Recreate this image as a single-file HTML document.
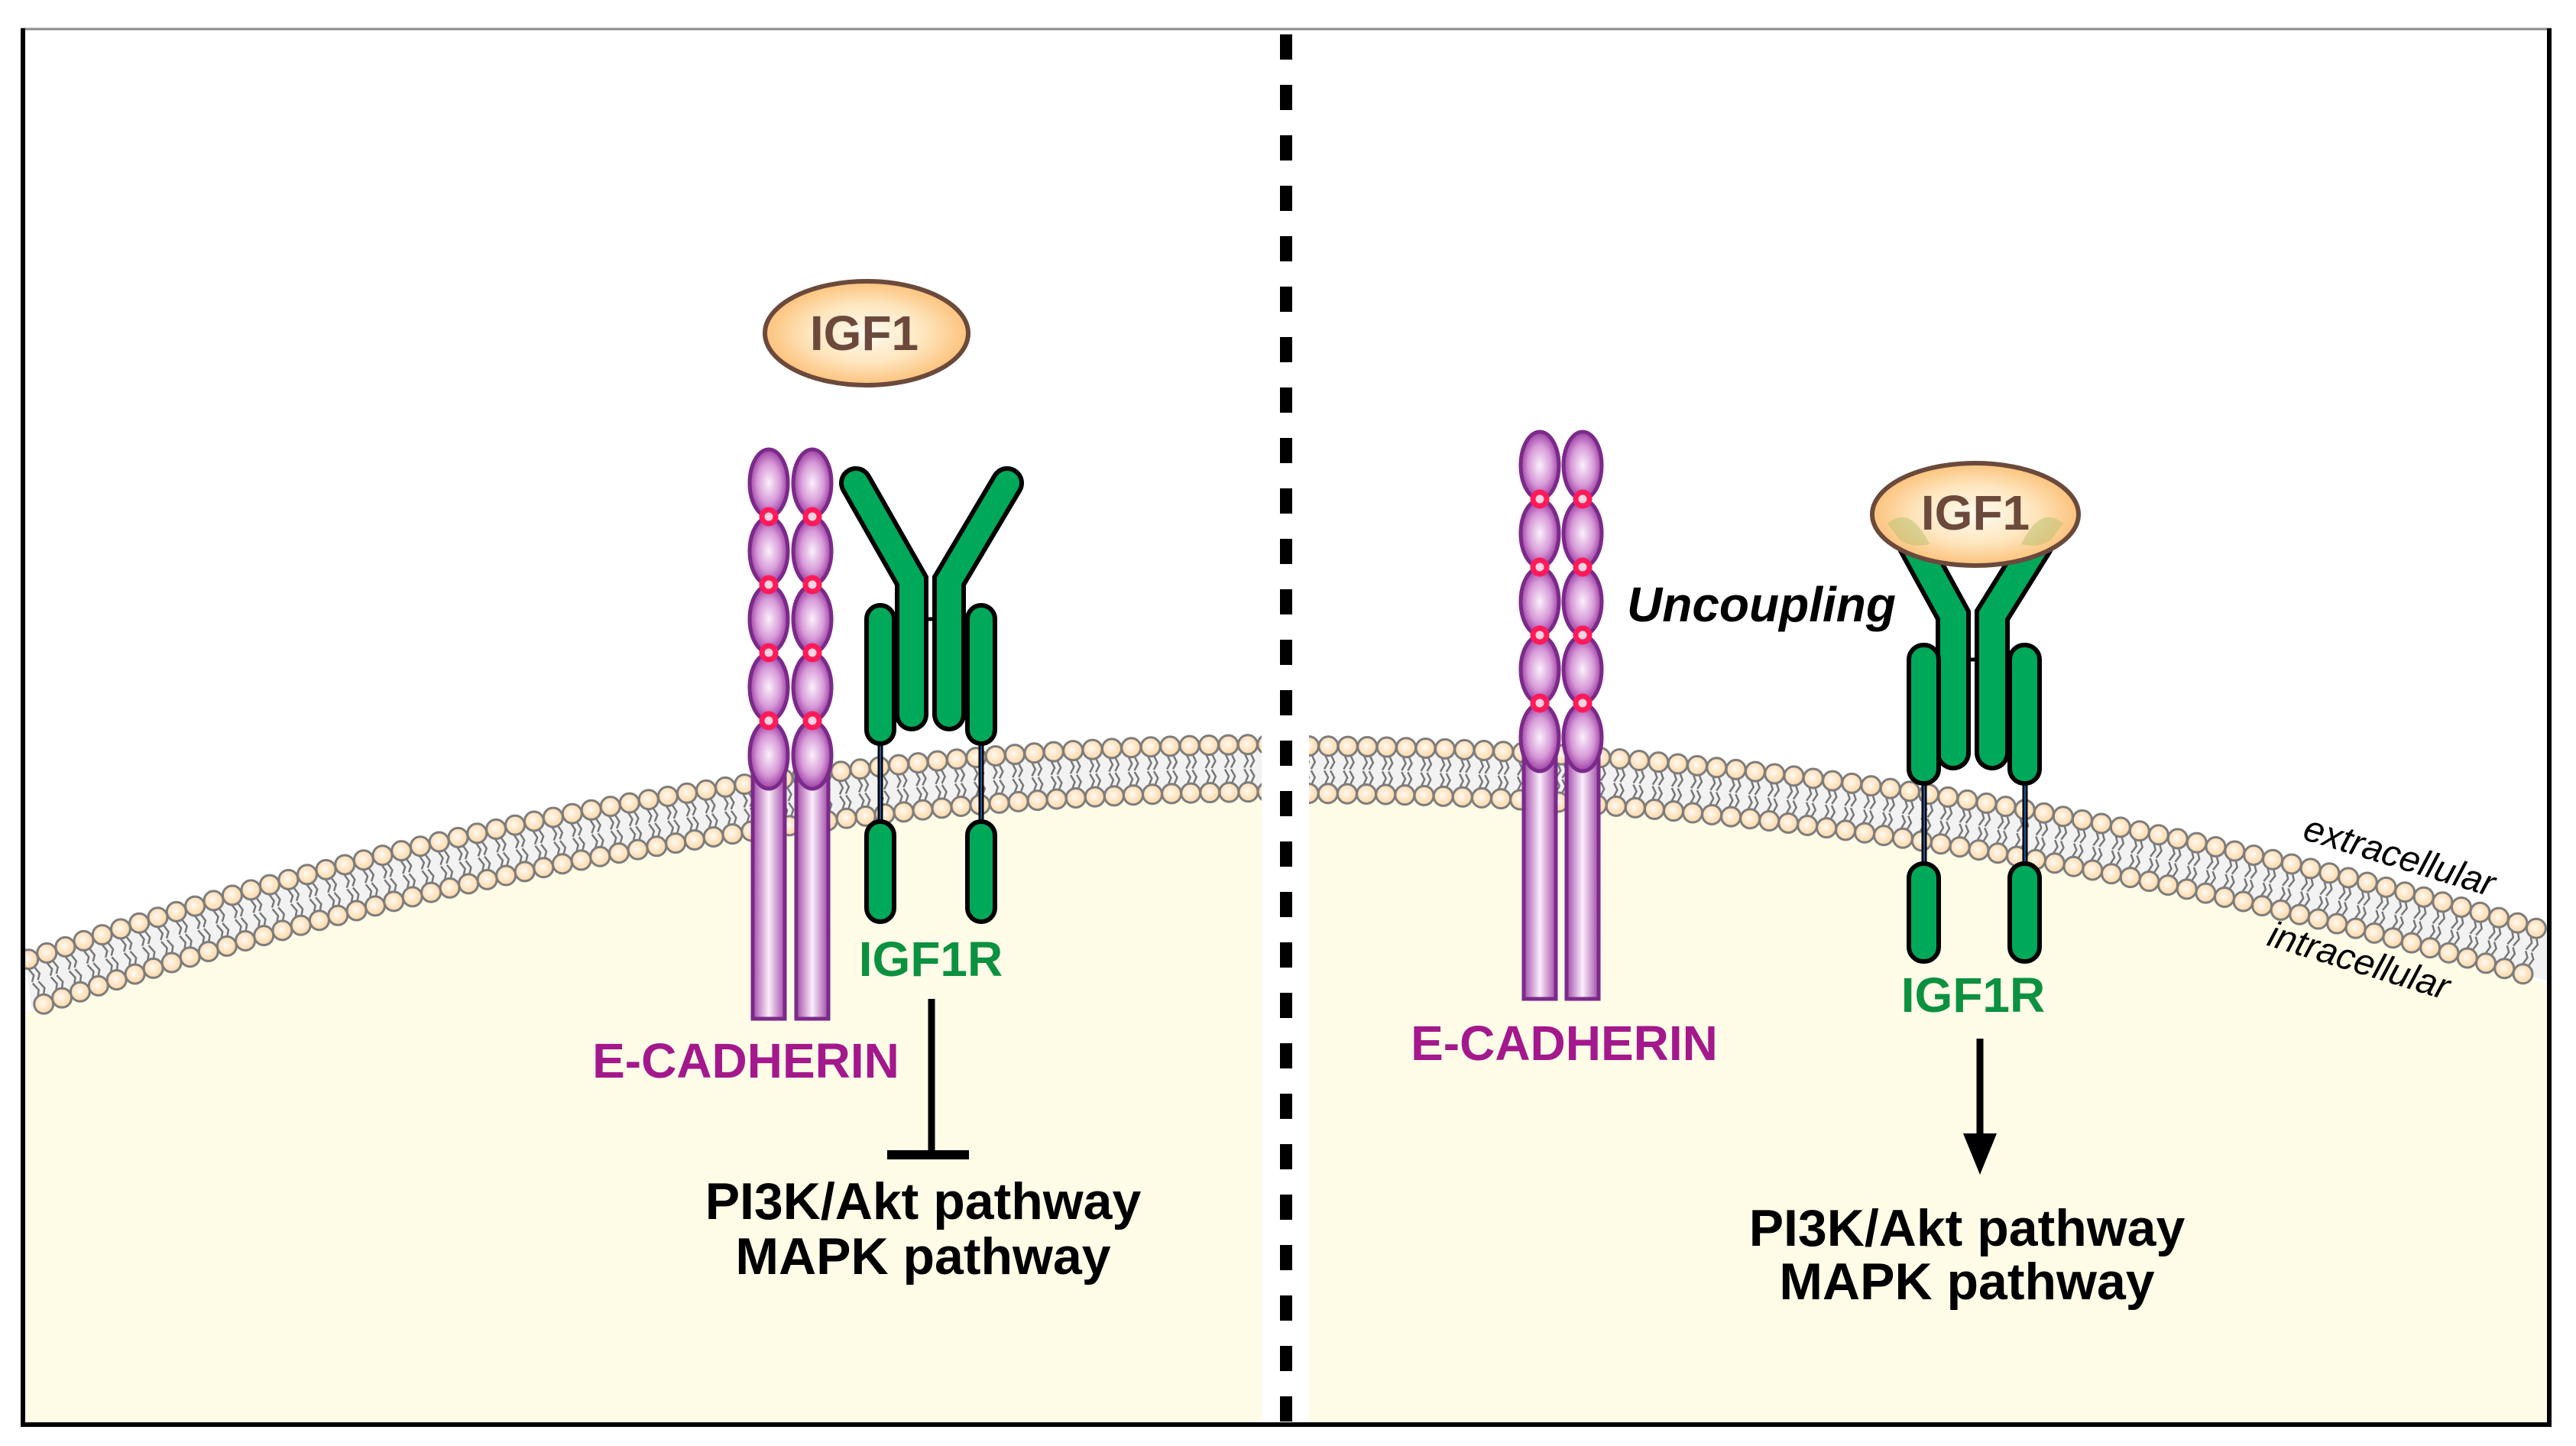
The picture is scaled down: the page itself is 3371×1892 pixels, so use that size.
<!DOCTYPE html>
<html><head><meta charset="utf-8"><style>
html,body{margin:0;padding:0;background:#fff;}
svg{display:block;}
text{font-family:"Liberation Sans",Arial,sans-serif;}
</style></head><body>
<svg id="s" width="3371" height="1892" viewBox="0 0 3371 1892" xmlns="http://www.w3.org/2000/svg">
<defs>
<radialGradient id="gIgf" cx="50%" cy="50%" r="50%">
<stop offset="0" stop-color="#fffaf0"/><stop offset="0.55" stop-color="#fee7c0"/><stop offset="1" stop-color="#fcc27c"/>
</radialGradient>
<radialGradient id="gLip" cx="45%" cy="45%" r="55%">
<stop offset="0" stop-color="#fffaf2"/><stop offset="1" stop-color="#fcd6a4"/>
</radialGradient>
<radialGradient id="gCad" cx="50%" cy="50%" r="50%">
<stop offset="0" stop-color="#fbf0fb"/><stop offset="0.6" stop-color="#d79ad8"/><stop offset="1" stop-color="#9c3fa2"/>
</radialGradient>
<linearGradient id="gRod" x1="0" x2="1" y1="0" y2="0">
<stop offset="0" stop-color="#a24aa8"/><stop offset="0.5" stop-color="#fbeefb"/><stop offset="1" stop-color="#a24aa8"/>
</linearGradient>
</defs>
<rect x="0" y="0" width="3371" height="1892" fill="#fff"/>
<g id="mem"></g>
<rect x="1651" y="40" width="62" height="1823" fill="#fff"/>
<line x1="1683" y1="45" x2="1683" y2="1866" stroke="#000" stroke-width="16" stroke-dasharray="33 33"/>
<line x1="28" y1="38" x2="3338" y2="38" stroke="#8a8a8a" stroke-width="3"/>
<line x1="30" y1="37" x2="30" y2="1866" stroke="#000" stroke-width="6"/>
<line x1="3336" y1="37" x2="3336" y2="1866" stroke="#000" stroke-width="6"/>
<line x1="27" y1="1864" x2="3339" y2="1864" stroke="#000" stroke-width="6"/>
<g id="cad"></g>

<ellipse cx="1134" cy="436" rx="133" ry="68" fill="url(#gIgf)" stroke="#6b4a3c" stroke-width="6"/>
<text x="1131" y="458" font-size="64" font-weight="bold" fill="#6b4a3c" text-anchor="middle">IGF1</text>

<g stroke-linecap="round" stroke-linejoin="miter" fill="none">
<path d="M1120 632 L1193 760 L1193 935" stroke="#000" stroke-width="44"/>
<path d="M1120 632 L1193 760 L1193 935" stroke="#00a85a" stroke-width="32"/>
<path d="M1318 632 L1242 760 L1242 935" stroke="#000" stroke-width="44"/>
<path d="M1318 632 L1242 760 L1242 935" stroke="#00a85a" stroke-width="32"/>
</g>
<line x1="1212" y1="810" x2="1222" y2="810" stroke="#000" stroke-width="5"/>
<line x1="1152" y1="970" x2="1152" y2="1078" stroke="#000" stroke-width="7"/>
<line x1="1152" y1="970" x2="1152" y2="1078" stroke="#1d5aa8" stroke-width="2"/>
<line x1="1284" y1="970" x2="1284" y2="1078" stroke="#000" stroke-width="7"/>
<line x1="1284" y1="970" x2="1284" y2="1078" stroke="#1d5aa8" stroke-width="2"/>
<rect x="1134" y="792" width="36" height="181" rx="18" fill="#00a85a" stroke="#000" stroke-width="6"/>
<rect x="1266" y="792" width="36" height="181" rx="18" fill="#00a85a" stroke="#000" stroke-width="6"/>
<rect x="1134" y="1075" width="36" height="131" rx="18" fill="#00a85a" stroke="#000" stroke-width="6"/>
<rect x="1266" y="1075" width="36" height="131" rx="18" fill="#00a85a" stroke="#000" stroke-width="6"/>

<text x="1218" y="1277" font-size="64" font-weight="bold" fill="#0b9140" text-anchor="middle">IGF1R</text>
<text x="976" y="1410" font-size="64" font-weight="bold" fill="#a3188c" text-anchor="middle">E-CADHERIN</text>
<line x1="1219" y1="1307" x2="1219" y2="1508" stroke="#000" stroke-width="9"/>
<line x1="1161" y1="1511" x2="1268" y2="1511" stroke="#000" stroke-width="12"/>
<text x="1208" y="1595" font-size="68" font-weight="bold" fill="#000" text-anchor="middle">PI3K/Akt pathway</text>
<text x="1208" y="1667" font-size="68" font-weight="bold" fill="#000" text-anchor="middle">MAPK pathway</text>

<g stroke-linecap="round" stroke-linejoin="miter" fill="none">
<path d="M2505 712 L2556 805 L2556 985" stroke="#000" stroke-width="46"/>
<path d="M2505 712 L2556 805 L2556 985" stroke="#00a85a" stroke-width="34"/>
<path d="M2665 712 L2607 805 L2607 985" stroke="#000" stroke-width="46"/>
<path d="M2665 712 L2607 805 L2607 985" stroke="#00a85a" stroke-width="34"/>
</g>
<line x1="2576" y1="863" x2="2587" y2="863" stroke="#000" stroke-width="5"/>
<ellipse cx="2585" cy="673" rx="135" ry="67" fill="url(#gIgf)" stroke="#6b4a3c" stroke-width="6"/>
<path d="M2470 685 Q2500 660 2525 712 Q2500 718 2485 705 Z" fill="#b8c070" opacity="0.5"/>
<path d="M2700 685 Q2670 660 2645 712 Q2670 718 2685 705 Z" fill="#b8c070" opacity="0.5"/>
<text x="2585" y="693" font-size="64" font-weight="bold" fill="#6b4a3c" text-anchor="middle">IGF1</text>
<line x1="2518" y1="1022" x2="2518" y2="1133" stroke="#000" stroke-width="7"/>
<line x1="2518" y1="1022" x2="2518" y2="1133" stroke="#1d5aa8" stroke-width="2"/>
<line x1="2650" y1="1022" x2="2650" y2="1133" stroke="#000" stroke-width="7"/>
<line x1="2650" y1="1022" x2="2650" y2="1133" stroke="#1d5aa8" stroke-width="2"/>
<rect x="2498" y="844" width="39" height="181" rx="19" fill="#00a85a" stroke="#000" stroke-width="6"/>
<rect x="2630" y="844" width="39" height="181" rx="19" fill="#00a85a" stroke="#000" stroke-width="6"/>
<rect x="2498" y="1130" width="39" height="128" rx="19" fill="#00a85a" stroke="#000" stroke-width="6"/>
<rect x="2630" y="1130" width="39" height="128" rx="19" fill="#00a85a" stroke="#000" stroke-width="6"/>

<text x="2582" y="1324" font-size="64" font-weight="bold" fill="#0b9140" text-anchor="middle">IGF1R</text>
<text x="2047" y="1387" font-size="64" font-weight="bold" fill="#a3188c" text-anchor="middle">E-CADHERIN</text>
<text x="2129" y="813" font-size="64" font-weight="bold" font-style="italic" fill="#000">Uncoupling</text>
<line x1="2591" y1="1359" x2="2591" y2="1490" stroke="#000" stroke-width="9"/>
<polygon points="2569,1483 2613,1483 2591,1537" fill="#000"/>
<text x="2574" y="1630" font-size="68" font-weight="bold" fill="#000" text-anchor="middle">PI3K/Akt pathway</text>
<text x="2574" y="1700" font-size="68" font-weight="bold" fill="#000" text-anchor="middle">MAPK pathway</text>

<text x="3140" y="1136" font-size="48" font-style="italic" fill="#000" text-anchor="middle" transform="rotate(17 3140 1120)">extracellular</text>
<text x="3087" y="1273" font-size="48" font-style="italic" fill="#000" text-anchor="middle" transform="rotate(17 3087 1257)">intracellular</text>
</svg>
<script>
(function(){
var NS="http://www.w3.org/2000/svg";
function el(n,a,p){var e=document.createElementNS(NS,n);for(var k in a)e.setAttribute(k,a[k]);p.appendChild(e);return e;}
var mem=document.getElementById('mem');
var TH=88;
function ytL(x){return 961+1.035e-4*(x-1683)*(x-1683);}
function ytR(x){return 963+0.89e-4*(x-1683)*(x-1683);}
function side(f,x0,x1){
  var d="M"+x0+" "+(f(x0)+TH-6);
  for(var x=x0;x<=x1;x+=10)d+=" L"+x+" "+(f(x)+TH-6);
  d+=" L"+x1+" "+(f(x1)+TH-6)+" L"+x1+" 1863 L"+x0+" 1863 Z";
  el('path',{d:d,fill:'#fefbe6'},mem);
  var b="M"+x0+" "+(f(x0)+10);
  for(var x=x0;x<=x1;x+=10)b+=" L"+x+" "+(f(x)+10);
  b+=" L"+x1+" "+(f(x1)+10);
  for(var x=x1;x>=x0;x-=10)b+=" L"+x+" "+(f(x)+TH-10);
  b+=" Z";
  el('path',{d:b,fill:'#f2f2f2'},mem);
  var pts=[];var x=x0;
  while(x<=x1+13){
    var s=(f(x+1)-f(x-1))/2;var c=1/Math.sqrt(1+s*s);
    pts.push([x,s,c]);x+=25.5*c;
  }
  var tails=el('g',{stroke:'#777','stroke-width':'2.5',fill:'none'},mem);
  var g=el('g',{fill:'url(#gLip)',stroke:'#7d7d7d','stroke-width':'3'},mem);
  pts.forEach(function(p,i){
    var x=p[0],s=p[1],c=p[2];
    var nx=-s*c,ny=c;
    var yt=f(x);
    var cx1=x+nx*13,cy1=yt+ny*13;
    var cx2=x+nx*(TH-13),cy2=yt+ny*(TH-13);
    for(var k=-1;k<=1;k+=2){
      var ox=k*4*c,oy=k*4*s*c;
      var e=document.createElementNS(NS,'path');
      e.setAttribute('d','M'+(cx1+ox+nx*12)+' '+(cy1+oy+ny*12)+' l'+(nx*9+4)+' '+(ny*9)+' l'+(nx*9-5)+' '+(ny*9));tails.appendChild(e);
      e=document.createElementNS(NS,'path');
      e.setAttribute('d','M'+(cx2+ox-nx*12)+' '+(cy2+oy-ny*12)+' l'+(-nx*9+4)+' '+(-ny*9)+' l'+(-nx*9-5)+' '+(-ny*9));tails.appendChild(e);
    }
    el('circle',{cx:cx1,cy:cy1,r:12.5},g);
    el('circle',{cx:cx2,cy:cy2,r:12.5},g);
  });
}
side(ytL,33,1651);
side(ytR,1713,3333);
el('rect',{x:0,y:0,width:28,height:1892,fill:'#fff'},mem);
el('rect',{x:3339,y:0,width:40,height:1892,fill:'#fff'},mem);

var cad=document.getElementById('cad');
function cadherin(xs,top,rodEnd){
  xs.forEach(function(x){
    el('rect',{x:x-21,y:top+395,width:42,height:rodEnd-(top+395),fill:'url(#gRod)',stroke:'#7b2a8a','stroke-width':5},cad);
    for(var i=0;i<5;i++){
      el('ellipse',{cx:x,cy:top+44+i*89,rx:25,ry:44,fill:'url(#gCad)',stroke:'#7b2a8a','stroke-width':5},cad);
    }
    for(var i=0;i<4;i++){
      el('circle',{cx:x,cy:top+88+i*89,r:9,fill:'#ffd3df',stroke:'#ff1a5a','stroke-width':7},cad);
    }
  });
}
cadherin([1006,1063],588,1333);
cadherin([2015,2071],565,1307);
})();
</script>
</body></html>
